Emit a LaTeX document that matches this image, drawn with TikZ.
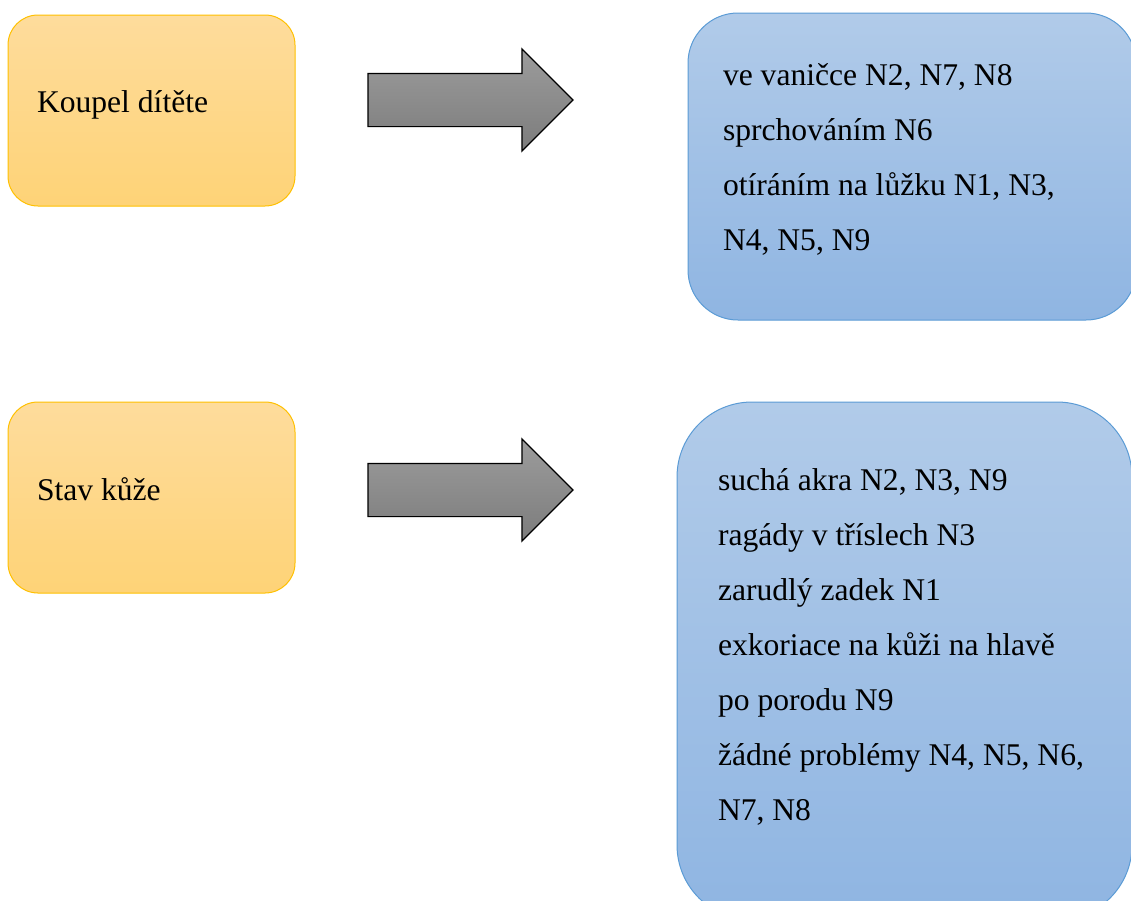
\documentclass[tikz,border=0pt]{standalone}
\usepackage{fontspec}
\setmainfont{Liberation Serif}
\usetikzlibrary{shapes.arrows}
\definecolor{goldline}{HTML}{FFC000}
\definecolor{goldtop}{HTML}{FEDC9C}
\definecolor{goldbot}{HTML}{FED377}
\definecolor{blueline}{HTML}{5B9BD5}
\definecolor{bluetop}{HTML}{B1CBE9}
\definecolor{bluebot}{HTML}{8FB5E2}
\definecolor{greytop}{HTML}{9C9C9C}
\definecolor{greybot}{HTML}{7C7C7C}
\begin{document}
\begin{tikzpicture}[x=1pt,y=-1pt,
  every node/.style={inner sep=0pt,outer sep=0pt},
  topicbox/.style={draw=goldline,line width=1pt,rounded corners=30pt,
    top color=goldtop,bottom color=goldbot,anchor=north west,
    minimum width=287pt,minimum height=191pt},
  detailbox/.style={draw=blueline,line width=1pt,
    top color=bluetop,bottom color=bluebot,anchor=north west},
  bigarrow/.style={single arrow,draw=black,line width=1.2pt,
    top color=greytop,bottom color=greybot,
    inner xsep=0pt,inner ysep=26pt,minimum height=205pt,
    single arrow head extend=24.5pt,single arrow tip angle=90,
    anchor=tail},
  label/.style={font=\fontsize{31.6pt}{38pt}\selectfont,anchor=base west}]
\useasboundingbox (0,0) rectangle (1131,900);

% left-hand topic boxes
\node[topicbox] (bath) at (8,15) {};
\node[topicbox] (skin) at (8,402) {};
\node[label] (bathtxt) at (37,112) {Koupel dítěte};
\node[label] (skintxt) at (37,500) {Stav kůže};

% right-hand detail boxes
\node[detailbox,rounded corners=50pt,minimum width=448pt,minimum height=307pt]
  (bathinfo) at (688,13) {};
\node[detailbox,rounded corners=75pt,minimum width=455pt,minimum height=518pt]
  (skininfo) at (677,402) {};

% block arrows between them
\node[bigarrow] (arr1) at (368,100) {};
\node[bigarrow] (arr2) at (368,490) {};

% detail lines
\foreach \t [count=\i] in {{ve vaničce N2, N7, N8},
    {sprchováním N6},
    {otíráním na lůžku N1, N3,},
    {N4, N5, N9}}
  \node[label] (b\i) at (723,30+55*\i) {\t};
\foreach \t [count=\i] in {{suchá akra N2, N3, N9},
    {ragády v tříslech N3},
    {zarudlý zadek N1},
    {exkoriace na kůži na hlavě},
    {po porodu N9},
    {žádné problémy N4, N5, N6,},
    {N7, N8}}
  \node[label] (s\i) at (718,435+55*\i) {\t};
\end{tikzpicture}
\end{document}
